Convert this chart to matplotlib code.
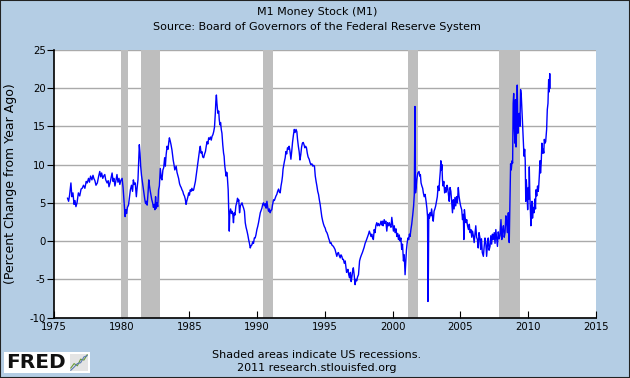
import matplotlib
matplotlib.use("Agg")
import matplotlib.pyplot as plt
from matplotlib.patches import Rectangle

plt.rcParams["axes.unicode_minus"] = False

BG = "#B4CDE4"
LINE = "#0000FF"
SHADE = "#BEBEBE"
GRID = "#AAAAAA"

# weekly M1, percent change from year ago
dates = [
    1976.00, 1976.08, 1976.15, 1976.25, 1976.32, 1976.40, 1976.48, 1976.55, 1976.62, 1976.70,
    1976.80, 1976.90, 1977.00, 1977.08, 1977.18, 1977.28, 1977.38, 1977.45, 1977.55, 1977.62,
    1977.70, 1977.80, 1977.88, 1977.94, 1978.02, 1978.10, 1978.20, 1978.30, 1978.38, 1978.45,
    1978.52, 1978.60, 1978.67, 1978.75, 1978.82, 1978.92, 1979.00, 1979.06, 1979.15, 1979.22,
    1979.29, 1979.36, 1979.42, 1979.50, 1979.58, 1979.65, 1979.72, 1979.80, 1979.86, 1979.93,
    1980.03, 1980.10, 1980.18, 1980.25, 1980.30, 1980.36, 1980.42, 1980.50, 1980.58, 1980.64,
    1980.72, 1980.80, 1980.86, 1980.93, 1981.00, 1981.08, 1981.14, 1981.20, 1981.26, 1981.30,
    1981.35, 1981.40, 1981.46, 1981.52, 1981.58, 1981.64, 1981.70, 1981.76, 1981.82, 1981.88,
    1981.94, 1982.00, 1982.05, 1982.10, 1982.16, 1982.22, 1982.28, 1982.34, 1982.40, 1982.45,
    1982.50, 1982.55, 1982.60, 1982.66, 1982.72, 1982.78, 1982.85, 1982.92, 1982.97, 1983.04,
    1983.10, 1983.17, 1983.22, 1983.28, 1983.35, 1983.42, 1983.48, 1983.52, 1983.58, 1983.64,
    1983.71, 1983.76, 1983.80, 1983.86, 1983.92, 1983.96, 1984.02, 1984.08, 1984.14, 1984.20,
    1984.27, 1984.33, 1984.39, 1984.45, 1984.51, 1984.57, 1984.63, 1984.69, 1984.75, 1984.80,
    1984.86, 1984.90, 1984.94, 1985.00, 1985.06, 1985.12, 1985.18, 1985.25, 1985.31, 1985.37,
    1985.44, 1985.50, 1985.56, 1985.62, 1985.68, 1985.74, 1985.80, 1985.86, 1985.92, 1985.98,
    1986.05, 1986.12, 1986.18, 1986.24, 1986.30, 1986.36, 1986.42, 1986.48, 1986.55, 1986.61,
    1986.67, 1986.73, 1986.79, 1986.85, 1986.91, 1986.95, 1986.99, 1987.03, 1987.07, 1987.11,
    1987.16, 1987.20, 1987.25, 1987.30, 1987.35, 1987.40, 1987.46, 1987.52, 1987.56, 1987.60,
    1987.65, 1987.70, 1987.74, 1987.78, 1987.82, 1987.86, 1987.90, 1987.94, 1987.98, 1988.04,
    1988.10, 1988.14, 1988.20, 1988.25, 1988.30, 1988.36, 1988.43, 1988.49, 1988.55, 1988.60,
    1988.64, 1988.70, 1988.76, 1988.82, 1988.88, 1988.94, 1989.00, 1989.06, 1989.12, 1989.18,
    1989.25, 1989.31, 1989.37, 1989.43, 1989.49, 1989.55, 1989.61, 1989.67, 1989.73, 1989.79,
    1989.85, 1989.91, 1989.98, 1990.04, 1990.10, 1990.16, 1990.23, 1990.29, 1990.35, 1990.41,
    1990.47, 1990.53, 1990.60, 1990.66, 1990.72, 1990.78, 1990.84, 1990.90, 1990.96, 1991.02,
    1991.08, 1991.14, 1991.21, 1991.27, 1991.33, 1991.39, 1991.45, 1991.51, 1991.58, 1991.64,
    1991.70, 1991.76, 1991.82, 1991.87, 1991.91, 1991.95, 1992.01, 1992.07, 1992.12, 1992.18,
    1992.24, 1992.30, 1992.36, 1992.42, 1992.49, 1992.55, 1992.61, 1992.68, 1992.74, 1992.80,
    1992.87, 1992.93, 1992.98, 1993.04, 1993.10, 1993.16, 1993.22, 1993.28, 1993.34, 1993.40,
    1993.46, 1993.52, 1993.58, 1993.64, 1993.70, 1993.76, 1993.84, 1993.90, 1993.96, 1994.04,
    1994.11, 1994.17, 1994.23, 1994.29, 1994.35, 1994.41, 1994.47, 1994.53, 1994.59, 1994.65,
    1994.71, 1994.77, 1994.84, 1994.90, 1994.96, 1995.02, 1995.08, 1995.15, 1995.21, 1995.27,
    1995.33, 1995.39, 1995.45, 1995.51, 1995.57, 1995.63, 1995.69, 1995.75, 1995.81, 1995.88,
    1995.94, 1996.00, 1996.06, 1996.13, 1996.19, 1996.25, 1996.31, 1996.37, 1996.43, 1996.50,
    1996.55, 1996.60, 1996.66, 1996.70, 1996.76, 1996.82, 1996.88, 1996.94, 1997.00, 1997.05,
    1997.10, 1997.16, 1997.23, 1997.29, 1997.35, 1997.41, 1997.48, 1997.56, 1997.62, 1997.70,
    1997.77, 1997.84, 1997.90, 1997.97, 1998.04, 1998.10, 1998.16, 1998.22, 1998.28, 1998.34,
    1998.40, 1998.46, 1998.52, 1998.58, 1998.64, 1998.70, 1998.76, 1998.83, 1998.89, 1998.95,
    1999.02, 1999.08, 1999.14, 1999.20, 1999.26, 1999.30, 1999.38, 1999.44, 1999.50, 1999.57,
    1999.63, 1999.70, 1999.76, 1999.82, 1999.88, 1999.94, 2000.00, 2000.06, 2000.12, 2000.18,
    2000.25, 2000.31, 2000.37, 2000.43, 2000.49, 2000.55, 2000.61, 2000.67, 2000.73, 2000.80,
    2000.86, 2000.92, 2000.96, 2001.02, 2001.07, 2001.13, 2001.19, 2001.24, 2001.29, 2001.35,
    2001.41, 2001.45, 2001.49, 2001.55, 2001.60, 2001.65, 2001.69, 2001.73, 2001.78, 2001.86,
    2001.95, 2002.00, 2002.05, 2002.10, 2002.16, 2002.22, 2002.27, 2002.33, 2002.40, 2002.47,
    2002.53, 2002.58, 2002.61, 2002.64, 2002.67, 2002.72, 2002.76, 2002.82, 2002.88, 2002.94,
    2003.00, 2003.06, 2003.12, 2003.18, 2003.24, 2003.30, 2003.36, 2003.42, 2003.47, 2003.52,
    2003.56, 2003.60, 2003.64, 2003.68, 2003.72, 2003.78, 2003.84, 2003.90, 2003.96, 2004.02,
    2004.08, 2004.12, 2004.18, 2004.24, 2004.30, 2004.36, 2004.42, 2004.48, 2004.54, 2004.60,
    2004.66, 2004.72, 2004.78, 2004.85, 2004.90, 2004.96, 2005.02, 2005.10, 2005.16, 2005.22,
    2005.26, 2005.30, 2005.36, 2005.42, 2005.47, 2005.53, 2005.60, 2005.66, 2005.72, 2005.78,
    2005.84, 2005.90, 2005.96, 2006.02, 2006.08, 2006.14, 2006.20, 2006.26, 2006.32, 2006.38,
    2006.45, 2006.50, 2006.56, 2006.62, 2006.70, 2006.76, 2006.82, 2006.88, 2006.94, 2007.00,
    2007.06, 2007.12, 2007.19, 2007.25, 2007.31, 2007.37, 2007.43, 2007.50, 2007.56, 2007.62,
    2007.68, 2007.74, 2007.80, 2007.86, 2007.93, 2008.00, 2008.06, 2008.12, 2008.18, 2008.24,
    2008.30, 2008.36, 2008.42, 2008.48, 2008.54, 2008.58, 2008.61, 2008.66, 2008.71, 2008.76,
    2008.82, 2008.86, 2008.90, 2008.94, 2008.98, 2009.03, 2009.07, 2009.11, 2009.15, 2009.20,
    2009.25, 2009.30, 2009.35, 2009.40, 2009.45, 2009.50, 2009.55, 2009.60, 2009.65, 2009.70,
    2009.75, 2009.79, 2009.83, 2009.87, 2009.92, 2009.97, 2010.02, 2010.06, 2010.09, 2010.13,
    2010.17, 2010.21, 2010.25, 2010.29, 2010.33, 2010.38, 2010.44, 2010.50, 2010.55, 2010.58,
    2010.64, 2010.70, 2010.75, 2010.78, 2010.83, 2010.88, 2010.92, 2010.97, 2011.02, 2011.07,
    2011.12, 2011.16, 2011.20, 2011.25, 2011.30, 2011.37, 2011.42, 2011.47, 2011.52, 2011.56,
    2011.60, 2011.63,
]
pct_change = [
    5.6, 5.2, 6.0, 7.6, 5.8, 6.3, 4.8, 5.3, 4.5, 5.0,
    6.3, 5.9, 6.8, 6.9, 7.3, 6.9, 7.8, 7.6, 8.2, 7.7,
    8.5, 8.0, 8.6, 8.2, 7.9, 7.3, 7.6, 8.5, 9.1, 8.4,
    8.9, 8.2, 8.5, 8.7, 8.0, 7.6, 7.9, 7.1, 7.7, 8.3,
    8.9, 7.8, 8.2, 7.2, 8.0, 8.7, 7.7, 8.2, 7.4, 7.9,
    8.2, 7.0, 5.0, 3.2, 4.1, 3.6, 4.4, 4.7, 5.8, 6.7,
    7.3, 6.5, 8.0, 7.4, 7.6, 5.8, 7.0, 8.0, 10.8, 12.6,
    11.5, 9.8, 8.6, 7.8, 6.9, 6.2, 5.5, 4.9, 5.2, 4.7,
    6.2, 8.0, 7.2, 6.6, 6.0, 5.4, 5.0, 4.4, 4.8, 4.1,
    5.8, 4.3, 5.0, 4.5, 6.7, 7.2, 9.5, 8.2, 8.0, 9.3,
    9.6, 10.9, 9.8, 11.3, 12.4, 12.0, 13.0, 13.5, 13.1, 12.6,
    11.9, 11.2, 10.6, 10.0, 9.3, 9.5, 9.8, 9.0, 8.6, 8.2,
    7.5, 7.2, 7.0, 6.7, 6.5, 6.1, 5.9, 5.5, 4.8, 5.2,
    5.6, 5.9, 6.3, 6.0, 6.7, 6.5, 6.9, 6.6, 6.7, 7.2,
    7.8, 8.6, 9.5, 10.3, 11.1, 11.8, 12.4, 11.5, 11.7, 11.0,
    10.9, 11.4, 11.7, 12.4, 13.0, 12.7, 13.5, 13.3, 13.6, 13.2,
    13.7, 13.9, 14.3, 14.9, 16.7, 18.3, 19.1, 18.0, 17.2, 16.7,
    17.0, 15.9, 15.2, 15.5, 14.6, 14.1, 12.6, 11.5, 11.1, 10.0,
    9.3, 8.5, 9.0, 8.9, 7.8, 6.7, 3.9, 1.3, 3.7, 4.2,
    3.6, 3.9, 3.5, 2.4, 3.7, 3.4, 4.6, 5.0, 5.6, 5.2,
    5.4, 3.7, 4.6, 4.8, 5.0, 4.6, 4.3, 3.9, 2.4, 1.8,
    1.3, 0.8, 0.2, -0.3, -0.9, -0.6, -0.5, -0.1, -0.3, 0.4,
    0.4, 0.8, 1.5, 1.9, 2.4, 3.0, 3.7, 4.0, 4.3, 4.8,
    5.0, 4.6, 4.9, 4.3, 5.2, 4.4, 3.9, 4.2, 3.7, 4.0,
    4.1, 4.8, 5.4, 5.3, 5.6, 5.9, 6.1, 6.5, 6.8, 6.4,
    6.3, 7.2, 7.8, 8.5, 9.4, 9.8, 10.4, 10.9, 11.7, 11.4,
    12.2, 12.0, 12.4, 11.8, 10.7, 11.7, 12.9, 13.9, 14.6, 14.2,
    14.6, 14.3, 13.3, 12.4, 11.7, 10.6, 11.3, 12.3, 12.8, 12.9,
    12.6, 12.2, 12.4, 12.2, 11.5, 11.0, 10.7, 10.3, 10.0, 10.1,
    9.8, 9.9, 9.8, 8.5, 7.8, 7.2, 6.5, 6.1, 5.4, 4.8,
    4.0, 3.2, 2.6, 2.2, 1.9, 1.7, 1.3, 1.1, 0.8, 0.4,
    0.1, -0.3, -0.2, -0.5, -0.6, -0.7, -0.9, -1.1, -1.5, -2.0,
    -1.6, -1.5, -1.9, -2.2, -1.8, -2.0, -2.4, -2.4, -2.9, -2.6,
    -3.3, -4.1, -3.9, -3.7, -4.4, -4.8, -4.1, -5.3, -4.6, -3.9,
    -3.5, -4.4, -5.7, -5.0, -5.2, -4.7, -4.4, -2.6, -2.2, -1.8,
    -1.5, -1.1, -0.8, -0.3, 0.0, 0.3, 0.6, 0.9, 1.3, 1.0,
    0.6, 0.9, 0.4, 0.2, 1.5, 1.1, 2.0, 2.4, 2.0, 2.3,
    2.0, 2.2, 2.6, 2.1, 2.6, 2.0, 2.8, 2.3, 2.6, 1.3,
    2.4, 2.0, 2.4, 2.0, 1.8, 3.1, 2.2, 1.3, 2.0, 1.1,
    1.6, 0.6, 1.0, 0.2, 0.8, 0.0, 0.4, -1.1, -0.4, -2.6,
    -1.8, -4.4, -3.1, -1.2, -0.3, 0.4, 0.2, 0.9, 0.6, 1.5,
    2.2, 2.8, 3.5, 4.6, 6.1, 17.6, 6.3, 6.9, 8.0, 8.9,
    9.1, 8.5, 8.7, 7.6, 7.2, 6.9, 6.3, 5.8, 6.1, 5.2,
    4.3, 3.2, -7.9, -4.1, 3.5, 3.0, 3.7, 3.3, 4.2, 3.2,
    2.6, 3.9, 4.2, 4.6, 5.2, 5.8, 7.2, 6.6, 8.0, 9.1,
    10.5, 9.3, 10.0, 8.0, 7.2, 7.8, 6.3, 7.0, 6.4, 7.3,
    6.8, 6.1, 5.2, 7.0, 6.5, 5.0, 3.7, 5.4, 4.2, 5.7,
    4.6, 5.8, 5.0, 7.0, 5.9, 5.2, 4.6, 4.1, 2.8, 3.5,
    0.2, 4.1, 3.0, 2.4, 2.8, 2.0, 1.5, 2.2, 1.1, 1.5,
    0.5, 1.3, 0.7, -0.2, 0.9, 2.0, 0.5, 0.2, -0.9, 1.1,
    0.4, -1.1, 0.3, -1.5, -2.0, -0.7, 0.4, -0.2, -2.0, -0.5,
    0.4, -1.2, -0.7, 0.7, -0.4, 0.9, 0.2, 1.1, -0.3, 1.5,
    0.4, -0.7, 1.2, 0.3, 0.7, 2.8, 0.2, 1.4, 2.0, 0.5,
    1.1, 3.3, 2.4, 1.1, 3.7, 0.8, -0.2, 5.0, 10.1, 9.3,
    10.5, 10.2, 18.0, 19.3, 15.0, 12.8, 18.5, 12.3, 14.5, 20.4,
    14.1, 16.0, 16.7, 15.0, 19.8, 19.0, 17.0, 15.0, 12.8, 11.1,
    12.0, 10.5, 5.2, 8.0, 6.3, 4.1, 7.0, 5.5, 9.7, 6.1,
    4.0, 2.0, 4.5, 5.2, 3.0, 4.4, 3.7, 5.5, 4.2, 6.7,
    5.9, 7.2, 6.5, 7.0, 8.5, 10.5, 8.9, 10.2, 12.8, 11.5,
    12.0, 11.5, 13.3, 12.8, 13.0, 14.6, 17.2, 18.0, 21.1, 19.5,
    21.9, 20.0,
]

recession_start = [1979.98, 1981.45, 1990.45, 2001.1, 2007.87]
recession_end = [1980.5, 1982.86, 1991.17, 2001.86, 2009.4]

x_ticks = [1975, 1980, 1985, 1990, 1995, 2000, 2005, 2010, 2015]
y_ticks = [-10, -5, 0, 5, 10, 15, 20, 25]

fig = plt.figure(figsize=(6.3, 3.78), dpi=100, facecolor=BG)
ax = fig.add_axes([0.0857, 0.16, 0.86, 0.708])
ax.set_facecolor("white")

for s, e in zip(recession_start, recession_end):
    ax.axvspan(s, e, color=SHADE, lw=0, zorder=1)

ax.plot(dates, pct_change, color=LINE, lw=1.0, zorder=3)

ax.set_xlim(1975, 2015)
ax.set_ylim(-10, 25)
ax.set_xticks(x_ticks)
ax.set_yticks(y_ticks)
ax.yaxis.grid(True, color=GRID, lw=1)
ax.set_axisbelow(True)
for side in ("top", "right"):
    ax.spines[side].set_visible(False)
for side in ("left", "bottom"):
    ax.spines[side].set_linewidth(1.2)
ax.tick_params(axis="x", direction="in", length=5, labelsize=7.3, pad=3)
ax.tick_params(axis="y", direction="out", length=5, labelsize=7.3, pad=1)
ax.set_ylabel("(Percent Change from Year Ago)", fontsize=9)
ax.yaxis.set_label_coords(-0.069, 0.5)

# titles and footer
fig.text(0.503, 0.967, "M1 Money Stock (M1)", ha="center", va="center", fontsize=8)
fig.text(0.503, 0.928, "Source: Board of Governors of the Federal Reserve System",
         ha="center", va="center", fontsize=8)
fig.text(0.503, 0.061, "Shaded areas indicate US recessions.", ha="center", va="center", fontsize=8)
fig.text(0.503, 0.026, "2011 research.stlouisfed.org", ha="center", va="center", fontsize=8)

# FRED logo block
fig.patches.append(Rectangle((4 / 630, 5 / 378), 86 / 630, 21 / 378, transform=fig.transFigure,
                             facecolor="white", edgecolor="none", zorder=-1))
fig.text(6 / 630, 15 / 378, "FRED", ha="left", va="center", fontsize=14.5,
         fontweight="bold", color="#111111")
icon = fig.add_axes([70 / 630, 7 / 378, 18 / 630, 17 / 378], zorder=2)
icon.set_facecolor("#E4E4E4")
icon.plot([0, 1, 2, 3, 4, 5], [1, 2, 1.5, 3, 2.8, 4], color="#6A9A3A", lw=0.8)
icon.plot([0, 1, 2, 3, 4, 5], [0.5, 1.2, 2, 2.2, 3.5, 3.8], color="#5A7AB0", lw=0.8)
icon.set_xticks([])
icon.set_yticks([])
for sp in icon.spines.values():
    sp.set_visible(False)

fig.patches.append(Rectangle((0, 0), 1, 1, transform=fig.transFigure, fill=False,
                             edgecolor="#222222", lw=1.5))

fig.savefig("out.png", dpi=100, facecolor=BG)
